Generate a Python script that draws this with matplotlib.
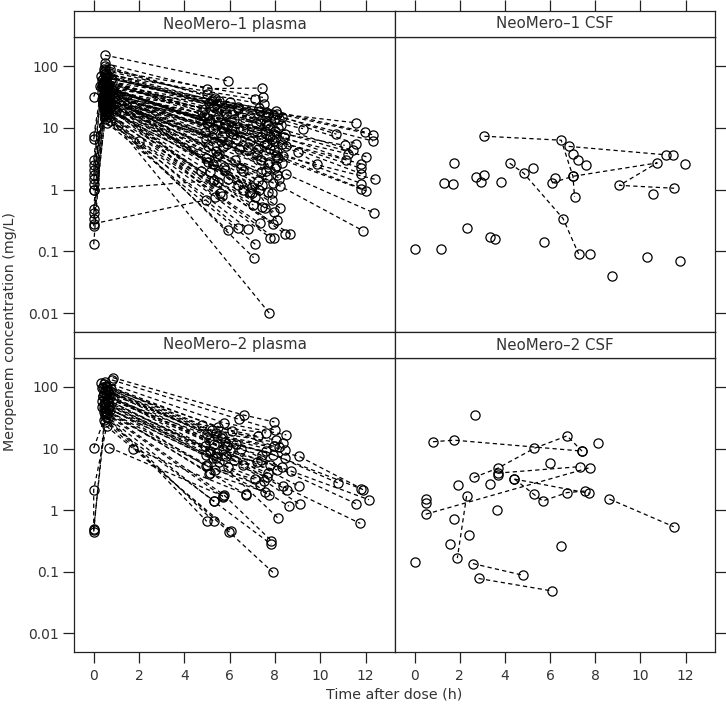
import matplotlib
matplotlib.use("Agg")
import matplotlib.pyplot as plt

plt.rcParams['font.family'] = ['DejaVu Sans']

# ---- data: one list of (time h, conc mg/L) per patient ----
nm1_plasma = [
    [(0.50, 150), (5.94, 57)],
    [(0.52, 110), (4.99, 43), (7.42, 44)],
    [(0.45, 88), (7.47, 31)],
    [(0.60, 72), (7.10, 29)],
    [(0.55, 65), (6.38, 20), (11.60, 12.0)],
    [(0.48, 58), (7.30, 21), (11.96, 8.6)],
    [(0.40, 52), (8.10, 17), (12.33, 7.7)],
    [(0.62, 47), (7.90, 16), (12.33, 6.1)],
    [(0.58, 44), (7.60, 18), (10.71, 7.9)],
    [(0.70, 40), (6.90, 15), (9.24, 9.7)],
    [(0.35, 38), (5.80, 12), (11.08, 5.2)],
    [(0.66, 36), (8.20, 14), (11.60, 5.5)],
    [(0.50, 34), (7.70, 11), (11.45, 4.3)],
    [(0.44, 33), (6.60, 9.5), (11.22, 3.8)],
    [(0.72, 31), (7.95, 8.0), (11.15, 3.05)],
    [(0.56, 30), (8.00, 9.0), (12.04, 3.4)],
    [(0.38, 29), (7.40, 7.0), (11.82, 2.6)],
    [(0.64, 28), (7.85, 6.5), (11.82, 2.2)],
    [(0.54, 27), (8.30, 5.5), (11.82, 1.8)],
    [(0.47, 26), (7.80, 4.5), (11.82, 1.25)],
    [(0.68, 25), (8.05, 3.6), (11.82, 1.04)],
    [(0.60, 24), (8.15, 3.2), (12.04, 0.95)],
    [(0.42, 23), (6.80, 4.8), (12.40, 1.47)],
    [(0.75, 22), (8.47, 1.8), (12.36, 0.42)],
    [(0.50, 20), (8.23, 1.14), (11.89, 0.215)],
    [(0.52, 18), (7.75, 0.01)],
    [(0.0, 1.0), (5.26, 1.4)],
    [(0.0, 0.28), (4.97, 0.68)],
    [(0.0, 7.3), (0.45, 80), (5.10, 25), (7.60, 12)],
    [(0.0, 6.5), (0.50, 75), (5.30, 22), (7.80, 10)],
    [(0.0, 3.05), (0.40, 62), (4.80, 18), (7.20, 8.5)],
    [(0.0, 2.5), (0.55, 55), (5.50, 15), (7.95, 6.0)],
    [(0.0, 2.05), (0.35, 50), (5.00, 12), (7.50, 5.2)],
    [(0.0, 1.74), (0.60, 46), (5.70, 10), (8.10, 4.0)],
    [(0.0, 1.47), (0.48, 42), (4.90, 8.5), (7.40, 3.0)],
    [(0.0, 1.24), (0.52, 39), (5.20, 7.0), (7.70, 2.6)],
    [(0.0, 0.97), (0.58, 35), (5.60, 6.0), (8.00, 2.2)],
    [(0.0, 0.49), (0.44, 32), (5.05, 5.0), (7.65, 1.6)],
    [(0.0, 0.41), (0.62, 30), (5.40, 4.2), (7.90, 1.3)],
    [(0.0, 0.34), (0.50, 28), (4.95, 3.2), (7.30, 1.0)],
    [(0.0, 0.255), (0.56, 26), (5.25, 2.6), (7.85, 0.68)],
    [(0.0, 0.13), (0.46, 24), (5.15, 1.9), (7.45, 0.53)],
    [(0.0, 32), (0.52, 100), (5.35, 30), (8.30, 15)],
    [(0.70, 90), (6.00, 26), (7.35, 19)],
    [(0.65, 68), (5.80, 21), (8.25, 11)],
    [(0.38, 60), (4.85, 16), (7.55, 9.0)],
    [(0.80, 56), (6.20, 14), (8.40, 7.0)],
    [(0.42, 50), (5.45, 11), (7.25, 4.5)],
    [(0.58, 45), (6.10, 9.0), (8.35, 3.5)],
    [(0.54, 41), (5.65, 7.5), (7.75, 2.8)],
    [(0.90, 38), (6.30, 6.5), (8.05, 2.4)],
    [(0.46, 34), (5.90, 5.5), (7.60, 2.0)],
    [(0.60, 31), (5.55, 3.8), (7.45, 1.2)],
    [(0.50, 29), (6.40, 4.5), (8.20, 1.5)],
    [(0.72, 27), (5.75, 2.3), (7.10, 0.75)],
    [(0.40, 25), (4.75, 2.0), (7.05, 0.56)],
    [(0.85, 23), (5.95, 1.5), (7.57, 0.5)],
    [(0.55, 21), (5.30, 1.45), (7.94, 0.44)],
    [(1.00, 19), (6.60, 2.0), (8.09, 0.32)],
    [(0.62, 17), (5.50, 1.35), (7.91, 0.28)],
    [(0.48, 16), (5.91, 0.22)],
    [(0.66, 15), (6.39, 0.24)],
    [(0.52, 14), (6.81, 0.23)],
    [(0.74, 13), (7.32, 0.285)],
    [(0.58, 12), (7.13, 0.13)],
    [(1.09, 11), (7.06, 0.079)],
    [(0.44, 20), (2.00, 6.0), (7.79, 0.167)],
    [(0.60, 18), (7.94, 0.167)],
    [(0.70, 22), (8.46, 0.19)],
    [(0.50, 17), (8.68, 0.19)],
    [(0.56, 28), (5.36, 0.77)],
    [(0.42, 25), (5.66, 0.78)],
    [(0.62, 30), (5.58, 0.87)],
    [(0.52, 44), (6.61, 0.99)],
    [(0.47, 40), (6.98, 0.87)],
    [(0.68, 36), (7.86, 0.87)],
    [(0.55, 33), (8.24, 0.5)],
    [(0.57, 48), (6.50, 2.2), (7.24, 1.4)],
    [(0.45, 52), (6.38, 1.2), (6.88, 0.93)],
    [(0.50, 85), (5.00, 35), (7.50, 24)],
    [(0.55, 78), (5.20, 28), (7.70, 17)],
    [(0.60, 66), (5.40, 24), (8.00, 14)],
    [(0.45, 58), (5.60, 19), (7.35, 13)],
    [(0.40, 54), (4.90, 20), (7.15, 12)],
    [(0.65, 48), (5.85, 17), (8.15, 10)],
    [(0.52, 43), (5.15, 13), (7.80, 7.5)],
    [(0.58, 39), (6.05, 13), (8.45, 8.0)],
    [(0.48, 37), (5.25, 9.5), (7.65, 5.5)],
    [(0.70, 35), (6.15, 8.0), (7.95, 4.3)],
    [(0.42, 33), (4.95, 6.5), (7.20, 3.6)],
    [(0.62, 30), (5.70, 4.8), (8.30, 2.7)],
    [(0.50, 27), (5.45, 3.5), (7.40, 1.9)],
    [(0.55, 24), (6.25, 3.0), (8.10, 1.7)],
    [(0.46, 21), (5.05, 2.8), (7.00, 1.1)],
    [(0.64, 19), (5.80, 2.1), (7.70, 0.9)],
    [(0.38, 45), (4.70, 14), (6.90, 6.2)],
    [(0.75, 62), (6.35, 22), (7.60, 15)],
    [(0.85, 41), (5.95, 11), (8.50, 5.0)],
    [(0.33, 70), (5.55, 27), (8.05, 19)],
    [(0.29, 47), (9.02, 4.05), (9.86, 2.6)],
]

nm1_csf = [
    [(3.09, 7.3), (6.49, 6.3), (7.01, 1.64), (7.08, 0.76)],
    [(6.82, 5.0), (11.13, 3.65)],
    [(6.08, 1.28), (7.01, 1.64), (10.74, 2.7), (9.07, 1.17), (11.49, 1.05)],
    [(4.21, 2.67), (4.83, 1.84), (6.57, 0.34), (7.26, 0.091)],
    [(0.0, 0.11)], [(1.18, 0.11)], [(1.30, 1.26)], [(1.71, 1.22)],
    [(1.74, 2.72)], [(2.34, 0.24)], [(2.70, 1.62)], [(2.95, 1.34)],
    [(3.06, 1.72)], [(3.33, 0.169)], [(3.58, 0.16)], [(3.84, 1.34)],
    [(5.24, 2.26)], [(5.73, 0.14)], [(6.23, 1.52)], [(7.00, 3.8)],
    [(7.23, 3.06)], [(7.60, 2.5)], [(7.75, 0.091)], [(8.75, 0.04)],
    [(10.28, 0.08)], [(10.57, 0.85)], [(11.43, 3.6)], [(11.75, 0.07)],
    [(11.99, 2.6)],
]

nm2_plasma = [
    [(0.84, 142), (6.62, 35), (7.98, 27)],
    [(0.50, 120), (5.76, 26), (8.50, 16.7)],
    [(0.45, 110), (5.50, 22), (7.25, 15.8)],
    [(0.55, 105), (5.20, 20), (8.03, 13.9)],
    [(0.40, 100), (5.40, 18), (8.35, 12.2)],
    [(0.60, 98), (5.00, 17), (8.43, 9.6)],
    [(0.35, 95), (5.60, 15), (9.06, 7.5), (11.82, 2.24)],
    [(0.50, 90), (5.10, 14), (7.60, 9.0), (10.78, 2.77)],
    [(0.65, 85), (5.80, 13), (7.90, 8.0), (11.89, 2.16)],
    [(0.45, 80), (5.30, 12), (8.72, 4.3), (12.15, 1.48)],
    [(0.55, 76), (4.90, 11), (7.40, 6.5), (11.57, 1.28)],
    [(0.42, 72), (5.70, 10), (8.35, 2.44), (11.77, 0.61)],
    [(0.70, 68), (6.00, 9.5), (9.06, 2.44)],
    [(0.50, 65), (5.15, 9.0), (7.80, 5.5)],
    [(0.58, 62), (5.45, 8.5), (7.20, 6.0)],
    [(0.38, 60), (4.95, 8.0), (8.10, 4.5)],
    [(0.62, 57), (5.85, 7.5), (7.70, 4.0)],
    [(0.48, 54), (5.25, 7.0), (8.62, 1.16)],
    [(0.66, 50), (6.20, 6.5), (9.09, 1.24)],
    [(0.52, 47), (5.55, 6.0), (8.13, 0.75)],
    [(0.44, 45), (4.99, 5.5), (7.73, 1.79)],
    [(0.72, 43), (5.95, 5.0), (7.50, 3.0)],
    [(0.56, 41), (5.14, 4.0), (6.73, 1.79)],
    [(0.46, 39), (5.35, 4.5), (7.35, 2.6)],
    [(0.60, 37), (5.73, 1.79), (7.84, 0.32)],
    [(0.50, 35), (5.29, 1.4), (7.84, 0.28)],
    [(0.54, 33), (4.99, 0.66)],
    [(0.64, 31), (5.29, 0.66)],
    [(0.0, 0.47), (0.0, 2.15), (0.57, 23), (6.07, 0.46)],
    [(0.0, 0.50), (0.50, 27.5), (5.96, 0.45), (7.91, 0.098)],
    [(0.0, 0.45), (0.50, 37.5), (5.70, 1.66)],
    [(0.0, 10.2), (0.45, 29), (5.33, 1.4)],
    [(0.69, 10.4), (5.70, 1.70)],
    [(1.75, 10.0), (6.73, 1.8)],
    [(0.80, 130), (6.40, 30), (8.00, 20)],
    [(0.30, 115), (4.80, 24), (7.60, 18)],
    [(0.75, 92), (6.10, 19), (7.95, 11)],
    [(0.58, 88), (5.65, 16), (8.20, 10.5)],
    [(0.68, 78), (6.30, 12), (8.45, 7.0)],
    [(0.40, 70), (5.90, 11), (7.45, 7.8)],
    [(0.85, 64), (6.50, 10), (8.30, 5.0)],
    [(0.52, 58), (5.40, 7.0), (7.65, 3.5)],
    [(0.47, 52), (4.96, 5.2), (7.10, 3.2)],
    [(0.36, 48), (5.11, 3.9), (7.55, 2.0)],
    [(0.63, 44), (6.60, 5.5), (8.55, 2.1)],
]

nm2_csf = [
    [(0.81, 12.9), (1.74, 13.7), (7.41, 9.1)],
    [(2.62, 3.4), (3.68, 4.8), (5.30, 10.1), (6.75, 16.1), (7.41, 9.1)],
    [(3.68, 4.0), (7.34, 5.1)],
    [(0.49, 0.86), (7.75, 4.9)],
    [(2.30, 1.7), (1.89, 0.167)],
    [(4.42, 3.2), (5.27, 1.82), (5.67, 1.41), (6.75, 1.93), (7.56, 2.05)],
    [(4.42, 3.2), (7.73, 1.88)],
    [(8.62, 1.52), (11.47, 0.54)],
    [(2.58, 0.136), (4.80, 0.088)],
    [(2.83, 0.078), (6.08, 0.049)],
    [(0.0, 0.147)], [(0.49, 1.51)], [(0.49, 1.33)], [(1.91, 2.57)],
    [(3.33, 2.67)], [(3.68, 3.7)], [(3.65, 1.01)], [(1.74, 0.72)],
    [(1.58, 0.28)], [(2.39, 0.40)], [(2.68, 35)], [(6.01, 5.9)],
    [(6.48, 0.26)], [(8.14, 12.4)],
]

panel_titles = ["NeoMero\u20131 plasma", "NeoMero\u20131 CSF",
                "NeoMero\u20132 plasma", "NeoMero\u20132 CSF"]
panel_data = [nm1_plasma, nm1_csf, nm2_plasma, nm2_csf]

x_ticks = [0, 2, 4, 6, 8, 10, 12]
y_ticks = [0.01, 0.1, 1, 10, 100]
y_tick_labels = ["0.01", "0.1", "1", "10", "100"]

# ---- layout (pixel boxes) ----
W, H = 726, 709
fig = plt.figure(figsize=(W / 100, H / 100), dpi=100)


def box(x0, y0, x1, y1):
    return [x0 / W, 1 - y1 / H, (x1 - x0) / W, (y1 - y0) / H]


cols = [(74, 395), (395, 715)]
rows = [(11, 37, 331.7), (332, 358, 652)]  # strip top, plot top, plot bottom
xlim = (-0.87, 13.3)
ylim = (0.005, 295)
edge = '#222222'
txt = '#333333'

for i, (title, subjects) in enumerate(zip(panel_titles, panel_data)):
    r, c = divmod(i, 2)
    x0, x1 = cols[c]
    s0, p0, p1 = rows[r]
    ax = fig.add_axes(box(x0, p0, x1, p1))
    st = fig.add_axes(box(x0, s0, x1, p0))

    for subj in subjects:
        t = [p[0] for p in subj]
        conc = [p[1] for p in subj]
        ax.plot(t, conc, color='black', ls=(0, (3.4, 2.6)), lw=0.9,
                marker='o', ms=6.6, mfc='none', mec='black', mew=0.9)

    ax.set_yscale('log')
    ax.set_xlim(xlim)
    ax.set_ylim(ylim)
    ax.minorticks_off()
    ax.set_yticks(y_ticks)
    ax.set_xticks(x_ticks)
    for sp in ax.spines.values():
        sp.set_color(edge)
        sp.set_linewidth(0.9)
    ax.tick_params(direction='out', length=8, width=0.9, color=edge,
                   labelsize=10, labelcolor=txt, pad=3)

    if c == 0:
        ax.set_yticklabels(y_tick_labels)
        ax.tick_params(axis='y', left=True, right=False, labelleft=True)
    else:
        ax.tick_params(axis='y', left=False, right=True, labelleft=False,
                       labelright=False)
    if r == 1:
        ax.tick_params(axis='x', bottom=True, top=False, labelbottom=True,
                       pad=4)
    else:
        ax.tick_params(axis='x', bottom=False, top=False, labelbottom=False)

    # strip
    st.set_xlim(xlim)
    st.set_yticks([])
    for sp in st.spines.values():
        sp.set_color(edge)
        sp.set_linewidth(0.9)
    if r == 0:
        st.set_xticks(x_ticks)
        st.tick_params(axis='x', bottom=False, top=True, labelbottom=False,
                       labeltop=False, direction='out', length=8, width=0.9,
                       color=edge)
    else:
        st.set_xticks([])
    st.text(0.5, 0.5, title, transform=st.transAxes, ha='center',
            va='center', fontsize=10.8, color=txt)

fig.text(10 / W, 1 - 332 / H, "Meropenem concentration (mg/L)",
         rotation=90, ha='center', va='center', fontsize=10.3, color=txt)
fig.text(394 / W, 1 - 695 / H, "Time after dose (h)", ha='center',
         va='center', fontsize=10.3, color=txt)

fig.savefig("out.png", dpi=100)
